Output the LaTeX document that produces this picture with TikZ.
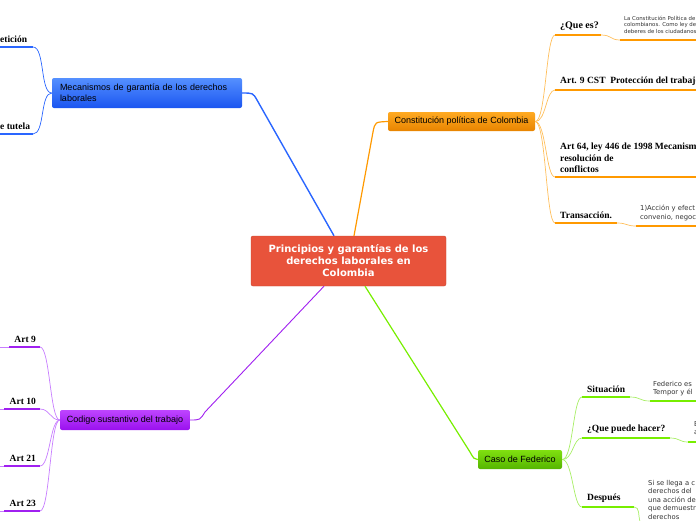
\documentclass[tikz,border=0pt]{standalone}
\usepackage{fontspec}
\setmainfont{Liberation Serif}
\setsansfont{Liberation Sans}
\newfontfamily\notefont{DejaVu Sans}
\usetikzlibrary{positioning}

\definecolor{rootred}{HTML}{E8533B}
\definecolor{bluetop}{HTML}{5590FF}
\definecolor{bluebot}{HTML}{1A55F0}
\definecolor{bluelin}{HTML}{2A66FF}
\definecolor{orangetop}{HTML}{FFAA22}
\definecolor{orangebot}{HTML}{E88400}
\definecolor{orangelin}{HTML}{FF9900}
\definecolor{orangethin}{HTML}{FFBF5C}
\definecolor{purpletop}{HTML}{BE45FF}
\definecolor{purplebot}{HTML}{9A10EE}
\definecolor{purplelin}{HTML}{A020F0}
\definecolor{purplethin}{HTML}{C77DFF}
\definecolor{greentop}{HTML}{80E010}
\definecolor{greenbot}{HTML}{55B500}
\definecolor{greenlin}{HTML}{77EE00}
\definecolor{greenthin}{HTML}{A8EE66}
\definecolor{notegray}{HTML}{333333}

\begin{document}
\begin{tikzpicture}[x=1pt,y=-1pt,
    topic/.style={rounded corners=2pt, inner sep=0pt, text=black,
        font=\sffamily\fontsize{9}{11}\selectfont},
    leaf/.style={font=\bfseries\fontsize{9.5}{11.5}\selectfont, inner sep=0pt, align=left},
    note/.style={font=\notefont\fontsize{6.8}{8.5}\selectfont, text=notegray, inner sep=0pt,
        anchor=north west, align=left},
    bar/.style={line width=2.6pt},
    thin/.style={line width=0.7pt}]

    \useasboundingbox (0,0) rectangle (696,520);
    \clip (0,0) rectangle (696,520);

    % main topic
    \node[topic, fill=rootred, draw=rootred!85!black, line width=0.4pt, minimum width=195pt,
        minimum height=50pt, text=white, align=center,
        font=\notefont\bfseries\fontsize{10}{12}\selectfont] (root) at (348.5,261)
        {Principios y garantías de los\\derechos laborales en\\Colombia};

    % branches
    \node[topic, top color=bluetop, bottom color=bluebot, minimum width=190pt, minimum height=30pt,
        text width=174pt, align=left] (mech) at (147,93)
        {Mecanismos de garantía de los derechos\\laborales};
    \node[topic, top color=orangetop, bottom color=orangebot, minimum width=147pt,
        minimum height=19pt] (cons) at (461.5,121.5) {Constitución política de Colombia};
    \node[topic, top color=purpletop, bottom color=purplebot, minimum width=130pt,
        minimum height=20pt] (cst) at (125,420) {Codigo sustantivo del trabajo};
    \node[topic, top color=greentop, bottom color=greenbot, minimum width=84pt,
        minimum height=19pt] (fede) at (520,459.5) {Caso de Federico};

    \draw[bluelin, line width=1.4pt] (root.north -| 334,0) -- (257,100) .. controls (253,93) .. (mech.east);
    \draw[orangelin, line width=1.2pt] (root.north -| 354,0) -- (373,132) .. controls (375,122) .. (cons.west);
    \draw[purplelin, line width=0.9pt] (root.south -| 324,0) -- (205,412) .. controls (200,420) .. (cst.east);
    \draw[greenlin, line width=1.2pt] (root.south -| 365,0) -- (470,452) .. controls (474,459) .. (fede.west);

    % mecanismos
    \coordinate (p1) at (33,47);
    \coordinate (p2) at (33,134);
    \draw[bluelin, bar] (0,47) -- (p1);
    \draw[bluelin, bar] (0,134) -- (p2);
    \node[leaf, anchor=south west] (peti) at (0,43) {etición};
    \node[leaf, anchor=south west] (tute) at (0,130) {e tutela};
    \draw[bluelin, thin] (mech.west) .. controls (40,93) and (45,47) .. (p1);
    \draw[bluelin, thin] (mech.west) .. controls (40,93) and (45,134) .. (p2);

    % constitucion
    \coordinate (c1) at (555,35);
    \coordinate (c2) at (555,90);
    \coordinate (c3) at (555,177);
    \coordinate (c4) at (555,223);
    \foreach \c in {c1,c2,c3,c4}
        \draw[orangethin, thin] (cons.east) .. controls (546,122) and (546,0 |- \c) .. (\c);
    \draw[orangelin, bar] (c1) -- (601,35);
    \draw[orangethin, thin] (601,35) .. controls (612,35) and (610,40) .. (620,40);
    \draw[orangelin, bar] (620,40) -- (696,40);
    \draw[orangelin, bar] (c2) -- (696,90);
    \draw[orangelin, bar] (c3) -- (696,177);
    \draw[orangelin, bar] (c4) -- (617,223);
    \draw[orangethin, thin] (617,223) .. controls (627,223) and (626,226) .. (636,226);
    \draw[orangelin, bar] (636,226) -- (696,226);
    \node[leaf, anchor=south west, font=\bfseries\fontsize{10}{11.5}\selectfont] (quees) at (560,31) {¿Que es?};
    \node[leaf, anchor=south west] (art9c) at (560,86) {Art. 9 CST\ \ Protección del trabajo};
    \node[leaf, anchor=south west] (art64) at (560,173) {Art 64, ley 446 de 1998 Mecanism\\resolución de\\conflictos};
    \node[leaf, anchor=south west] (trans) at (560,219) {Transacción.};
    \node[note, font=\notefont\fontsize{5.4}{6.4}\selectfont] (constn) at (624,16)
        {La Constitución Política de\\colombianos. Como ley de\\deberes de los ciudadanos};
    \node[note] (transn) at (640,205) {1)Acción y efect\\convenio, negoc};

    % codigo sustantivo
    \coordinate (a1) at (40,347);
    \coordinate (a2) at (40,409);
    \coordinate (a3) at (40,466);
    \coordinate (a4) at (40,511);
    \foreach \a in {a1,a2,a3,a4}
        \draw[purplethin, thin] (cst.west) .. controls (50,420) and (50,0 |- \a) .. (\a);
    \draw[purplethin, thin] (0,347) -- (9,347);
    \draw[purplelin, bar] (9,347) -- (a1);
    \draw[purplethin, thin] (0,409) -- (4,409);
    \draw[purplelin, bar] (4,409) -- (a2);
    \draw[purplethin, thin] (0,466) -- (4,466);
    \draw[purplelin, bar] (4,466) -- (a3);
    \draw[purplethin, thin] (0,511) -- (4,511);
    \draw[purplelin, bar] (4,511) -- (a4);
    \node[leaf, anchor=south east] (art9) at (36,343) {Art 9};
    \node[leaf, anchor=south east] (art10) at (36,405) {Art 10};
    \node[leaf, anchor=south east] (art21) at (36,462) {Art 21};
    \node[leaf, anchor=south east] (art23) at (36,507) {Art 23};

    % caso de federico
    \coordinate (f1) at (582,397);
    \coordinate (f2) at (582,438);
    \coordinate (f3) at (582,507);
    \foreach \f in {f1,f2,f3}
        \draw[greenthin, thin] (fede.east) .. controls (573,460) and (573,0 |- \f) .. (\f);
    \draw[greenlin, bar] (f1) -- (630,397);
    \draw[greenthin, thin] (630,397) .. controls (641,397) and (639,401) .. (650,401);
    \draw[greenlin, bar] (650,401) -- (696,401);
    \draw[greenlin, bar] (f2) -- (670,438);
    \draw[greenthin, thin] (670,438) .. controls (680,438) and (679,442) .. (688,442);
    \draw[greenlin, bar] (688,442) -- (696,442);
    \draw[greenlin, bar] (f3) -- (634,507);
    \draw[greenthin, thin] (634,507) .. controls (640,507) and (638,515) .. (640,522);
    \node[leaf, anchor=south west] (situ) at (587,393) {Situación};
    \node[leaf, anchor=south west] (puede) at (587,434) {¿Que puede hacer?};
    \node[leaf, anchor=south west] (despu) at (587,503) {Después};
    \node[note] (situn) at (653,381) {Federico es\\Tempor y él};
    \node[note] (pueden) at (694,421) {E\\a};
    \node[note] (despun) at (648,480) {Si se llega a c\\derechos del\\una acción de\\que demuestr\\derechos};
\end{tikzpicture}
\end{document}
